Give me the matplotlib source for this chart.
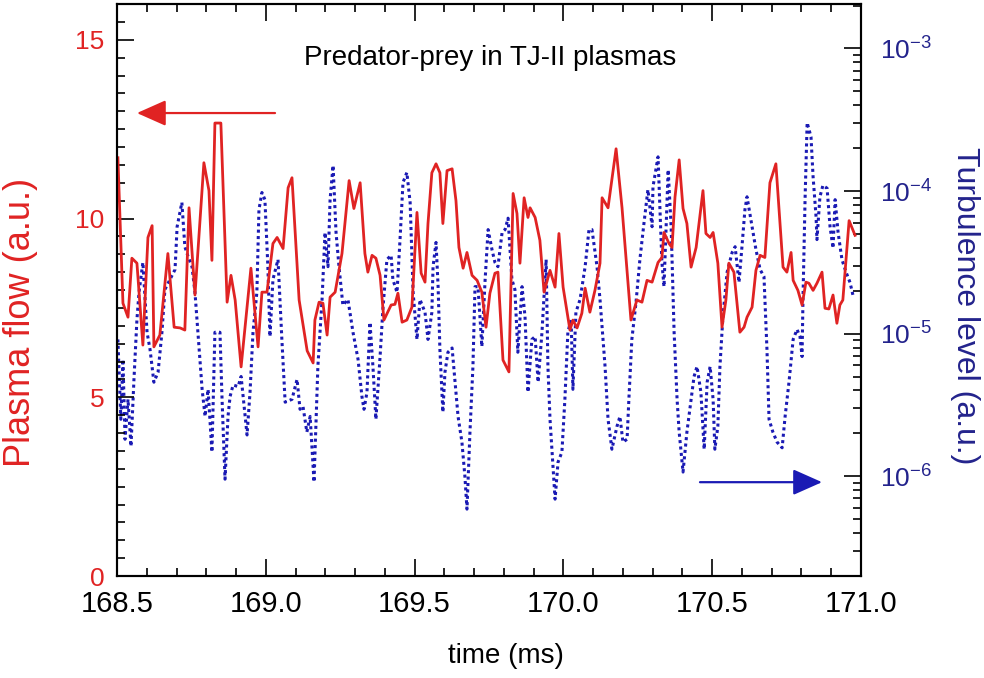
import matplotlib
matplotlib.use("Agg")
import matplotlib.pyplot as plt
import numpy as np
from matplotlib.ticker import MultipleLocator, FuncFormatter, LogLocator, NullFormatter

# plasma flow (left axis, linear)
flow_t = [168.503, 168.520, 168.537, 168.550, 168.567, 168.587, 168.604, 168.618, 168.624, 168.644,
          168.671, 168.692, 168.712, 168.728, 168.742, 168.762, 168.792, 168.809, 168.819, 168.829,
          168.849, 168.870, 168.883, 168.897, 168.917, 168.937, 168.950, 168.974, 168.987, 169.004,
          169.024, 169.038, 169.058, 169.075, 169.088, 169.112, 169.139, 169.159, 169.165, 169.179,
          169.192, 169.206, 169.216, 169.233, 169.256, 169.280, 169.296, 169.317, 169.333, 169.343,
          169.357, 169.370, 169.384, 169.397, 169.421, 169.434, 169.444, 169.458, 169.474, 169.491,
          169.508, 169.522, 169.535, 169.545, 169.558, 169.572, 169.585, 169.595, 169.609, 169.626,
          169.639, 169.649, 169.663, 169.676, 169.693, 169.710, 169.726, 169.740, 169.753, 169.770,
          169.780, 169.797, 169.817, 169.831, 169.844, 169.854, 169.868, 169.881, 169.888, 169.905,
          169.921, 169.935, 169.955, 169.972, 169.985, 169.999, 170.022, 170.032, 170.046, 170.062,
          170.073, 170.089, 170.106, 170.123, 170.130, 170.150, 170.177, 170.197, 170.227, 170.247,
          170.264, 170.281, 170.298, 170.318, 170.331, 170.338, 170.355, 170.365, 170.375, 170.389,
          170.402, 170.415, 170.429, 170.446, 170.469, 170.479, 170.493, 170.503, 170.519, 170.533,
          170.546, 170.556, 170.573, 170.593, 170.607, 170.617, 170.634, 170.647, 170.661, 170.677,
          170.694, 170.714, 170.738, 170.751, 170.765, 170.772, 170.788, 170.802, 170.815, 170.825,
          170.839, 170.852, 170.869, 170.879, 170.892, 170.906, 170.919, 170.929, 170.939, 170.960,
          170.980]
flow = [11.7, 7.63, 7.24, 8.89, 8.75, 6.46, 9.47, 9.8, 6.41, 6.74,
        9.02, 6.96, 6.94, 6.88, 10.3, 7.86, 11.56, 10.78, 8.83, 12.67,
        12.67, 7.66, 8.41, 7.72, 5.85, 7.52, 8.61, 6.41, 7.94, 7.94,
        9.3, 9.47, 9.16, 10.86, 11.14, 7.72, 6.3, 5.96, 7.16, 7.66,
        7.63, 6.74, 7.8, 7.94, 9.02, 11.06, 10.28, 11.0, 9.02, 8.5,
        8.97, 8.89, 8.41, 7.16, 7.58, 7.6, 7.91, 7.1, 7.16, 7.52,
        10.17, 8.47, 8.22, 9.86, 11.28, 11.53, 11.28, 9.86, 11.34, 11.39,
        10.5, 9.19, 8.61, 9.05, 8.41, 8.27, 7.94, 6.96, 7.91, 8.47,
        8.5, 6.04, 5.71, 10.7, 10.14, 8.75, 10.58, 10.03, 10.3, 10.03,
        9.39, 7.94, 8.55, 8.08, 9.58, 8.08, 6.88, 7.16, 6.94, 7.35,
        8.05, 7.38, 7.99, 8.75, 10.58, 10.3, 11.95, 10.3, 7.16, 7.72,
        7.66, 8.27, 8.22, 8.77, 8.91, 9.61, 9.3, 9.19, 10.6, 11.64,
        10.28, 9.86, 8.64, 9.19, 10.78, 9.58, 9.47, 9.61, 8.75, 6.96,
        7.72, 8.75, 8.5, 6.82, 6.96, 7.24, 7.52, 8.55, 8.97, 8.91,
        11.0, 11.53, 8.64, 8.5, 9.05, 8.27, 7.99, 7.58, 8.22, 8.19,
        7.99, 8.19, 8.5, 7.49, 7.47, 7.86, 7.07, 7.58, 7.72, 9.94,
        9.53]

# turbulence level (right axis, log10 of value)
turb_t = [168.503, 168.513, 168.520, 168.527, 168.537, 168.547, 168.557, 168.567, 168.574, 168.587,
          168.601, 168.611, 168.624, 168.638, 168.651, 168.661, 168.678, 168.695, 168.702, 168.718,
          168.728, 168.739, 168.752, 168.762, 168.772, 168.786, 168.796, 168.806, 168.819, 168.829,
          168.846, 168.853, 168.863, 168.873, 168.880, 168.890, 168.907, 168.917, 168.937, 168.947,
          168.957, 168.970, 168.977, 168.987, 168.997, 169.007, 169.014, 169.024, 169.041, 169.054,
          169.065, 169.088, 169.105, 169.115, 169.125, 169.138, 169.149, 169.162, 169.175, 169.189,
          169.199, 169.209, 169.216, 169.226, 169.236, 169.246, 169.259, 169.276, 169.293, 169.310,
          169.323, 169.330, 169.340, 169.350, 169.360, 169.370, 169.384, 169.394, 169.407, 169.421,
          169.427, 169.441, 169.451, 169.461, 169.474, 169.485, 169.495, 169.508, 169.518, 169.535,
          169.545, 169.558, 169.562, 169.572, 169.579, 169.585, 169.595, 169.602, 169.612, 169.626,
          169.636, 169.646, 169.659, 169.669, 169.676, 169.686, 169.696, 169.703, 169.713, 169.726,
          169.737, 169.747, 169.760, 169.770, 169.780, 169.794, 169.804, 169.814, 169.827, 169.837,
          169.847, 169.861, 169.871, 169.881, 169.894, 169.905, 169.915, 169.928, 169.942, 169.948,
          169.955, 169.965, 169.972, 169.982, 169.995, 170.005, 170.015, 170.026, 170.032, 170.042,
          170.056, 170.073, 170.086, 170.096, 170.113, 170.123, 170.130, 170.140, 170.150, 170.163,
          170.180, 170.190, 170.200, 170.214, 170.220, 170.230, 170.244, 170.257, 170.271, 170.284,
          170.298, 170.301, 170.318, 170.331, 170.338, 170.352, 170.362, 170.372, 170.382, 170.389,
          170.402, 170.415, 170.429, 170.439, 170.449, 170.462, 170.473, 170.483, 170.493, 170.503,
          170.509, 170.519, 170.526, 170.536, 170.550, 170.567, 170.577, 170.590, 170.600, 170.610,
          170.617, 170.634, 170.647, 170.661, 170.674, 170.684, 170.691, 170.704, 170.718, 170.735,
          170.745, 170.758, 170.772, 170.785, 170.795, 170.802, 170.805, 170.812, 170.819, 170.832,
          170.839, 170.849, 170.852, 170.862, 170.872, 170.886, 170.896, 170.906, 170.913, 170.923,
          170.936, 170.950, 170.963, 170.973]
turb_log = [-5.04, -5.60, -5.18, -5.74, -5.46, -5.79, -5.32, -4.90, -4.71, -4.50,
            -4.99, -5.11, -5.34, -5.27, -4.99, -4.69, -4.62, -4.55, -4.25, -4.08,
            -4.39, -4.46, -4.53, -4.71, -4.99, -5.39, -5.58, -5.39, -5.83, -4.99,
            -4.99, -5.46, -6.02, -5.58, -5.44, -5.36, -5.37, -5.30, -5.71, -5.41,
            -4.99, -4.71, -4.13, -4.01, -4.06, -4.53, -5.02, -4.62, -4.48, -5.04,
            -5.48, -5.46, -5.32, -5.53, -5.51, -5.69, -5.58, -6.04, -5.23, -4.76,
            -4.29, -4.53, -4.06, -3.82, -4.29, -4.53, -4.80, -4.76, -4.99, -5.18,
            -5.44, -5.53, -5.41, -4.92, -5.23, -5.60, -5.16, -4.81, -4.48, -4.45,
            -4.62, -4.71, -4.34, -3.94, -3.87, -4.08, -4.71, -5.04, -4.76, -4.85,
            -5.04, -4.85, -4.53, -4.36, -4.67, -5.11, -5.55, -5.27, -5.13, -5.10,
            -5.34, -5.58, -5.76, -6.00, -6.23, -5.69, -5.23, -4.67, -4.67, -5.09,
            -4.62, -4.27, -4.41, -4.50, -4.53, -4.29, -4.27, -4.19, -4.62, -4.69,
            -5.13, -4.67, -4.88, -5.41, -5.04, -5.02, -5.34, -4.99, -4.48, -5.23,
            -5.60, -5.93, -6.16, -5.90, -5.83, -5.46, -4.99, -4.90, -5.39, -4.85,
            -4.76, -4.53, -4.27, -4.27, -4.53, -4.76, -4.95, -5.23, -5.60, -5.81,
            -5.65, -5.58, -5.76, -5.74, -5.46, -5.04, -4.78, -4.48, -4.22, -3.99,
            -4.25, -3.97, -3.76, -4.50, -4.67, -3.85, -4.25, -4.99, -5.46, -5.69,
            -5.97, -5.69, -5.46, -5.30, -5.23, -5.41, -5.81, -5.34, -5.23, -5.46,
            -5.81, -5.65, -5.23, -4.88, -4.57, -4.43, -4.39, -4.64, -4.39, -4.13,
            -4.04, -4.25, -4.41, -4.55, -4.60, -5.11, -5.60, -5.69, -5.76, -5.80,
            -5.58, -5.34, -5.04, -4.97, -5.02, -5.16, -4.76, -4.06, -3.52, -3.62,
            -3.90, -4.18, -4.34, -4.04, -3.96, -3.98, -4.25, -4.40, -4.06, -4.29,
            -4.48, -4.57, -4.64, -4.73]

title = "Predator-prey in TJ-II plasmas"
RED = '#e02323'
BLUE = '#1a1ab4'
NAVY = '#23238c'

plt.rcParams['font.family'] = ['Liberation Sans', 'DejaVu Sans']

fig = plt.figure(figsize=(9.84, 6.78), dpi=100)
ax1 = fig.add_axes([0.1189, 0.1504, 0.7561, 0.8437])
ax1.plot(flow_t, flow, color=RED, lw=2.0)
ax1.set_xlim(168.5, 171.0)
ax1.set_ylim(0, 16)

ax2 = ax1.twinx()
ax2.plot(turb_t, 10.0 ** np.array(turb_log), color=BLUE, lw=2.2, ls=(0, (1, 1.1)))
ax2.set_yscale('log')
ax2.set_ylim(2e-7, 2.05e-3)

# red line on top of the blue one
ax1.set_zorder(ax2.get_zorder() + 1)
ax1.patch.set_visible(False)

ax1.xaxis.set_major_locator(MultipleLocator(0.5))
ax1.xaxis.set_minor_locator(MultipleLocator(0.1))
ax1.xaxis.set_major_formatter(FuncFormatter(lambda v, p: '%.1f' % v))
ax1.yaxis.set_major_locator(MultipleLocator(5))
ax1.yaxis.set_minor_locator(MultipleLocator(0.5))
ax1.tick_params(which='both', direction='in', top=True, width=1.2)
ax1.tick_params(which='major', length=12)
ax1.tick_params(which='minor', length=6)
ax1.tick_params(axis='x', labelsize=21, pad=10)
ax1.tick_params(axis='y', labelsize=19, labelcolor=RED, pad=9)

ax2.yaxis.set_major_locator(LogLocator(base=10, numticks=20))
ax2.yaxis.set_minor_locator(LogLocator(base=10, subs=np.arange(2, 10), numticks=20))
ax2.yaxis.set_major_formatter(FuncFormatter(lambda v, p: r'$\mathregular{10^{%d}}$' % round(np.log10(v))))
ax2.yaxis.set_minor_formatter(NullFormatter())
ax2.tick_params(axis='y', which='both', direction='in', width=1.2, labelcolor=NAVY, labelsize=19, pad=14)
ax2.tick_params(axis='y', which='major', length=12)
ax2.tick_params(axis='y', which='minor', length=6)

for ax in (ax1, ax2):
    for s in ax.spines.values():
        s.set_linewidth(1.5)

ax1.text(0.501, 0.906, title, transform=ax1.transAxes, ha='center', va='center', fontsize=20)

ax1.annotate('', xy=(168.567, 12.95), xytext=(169.031, 12.95),
             arrowprops=dict(arrowstyle='-|>,head_length=0.9,head_width=0.4', mutation_scale=20,
                             color=RED, lw=1.6, shrinkA=0, shrinkB=0))
ax2.annotate('', xy=(170.869, 9.1e-7), xytext=(170.459, 9.1e-7),
             arrowprops=dict(arrowstyle='-|>,head_length=0.9,head_width=0.4', mutation_scale=20,
                             color=BLUE, lw=1.6, shrinkA=0, shrinkB=0))

ax1.set_xlabel('time (ms)', fontsize=20)
ax1.xaxis.set_label_coords(0.523, -0.117)
ax1.set_ylabel('Plasma flow (a.u.)', color=RED, fontsize=26)
ax1.yaxis.set_label_coords(-0.106, 0.444)
ax2.set_ylabel('Turbulence level (a.u.)', color=NAVY, fontsize=23, rotation=270, va='bottom')
ax2.yaxis.set_label_coords(1.1196, 0.472)

fig.savefig('out.png', dpi=100)
